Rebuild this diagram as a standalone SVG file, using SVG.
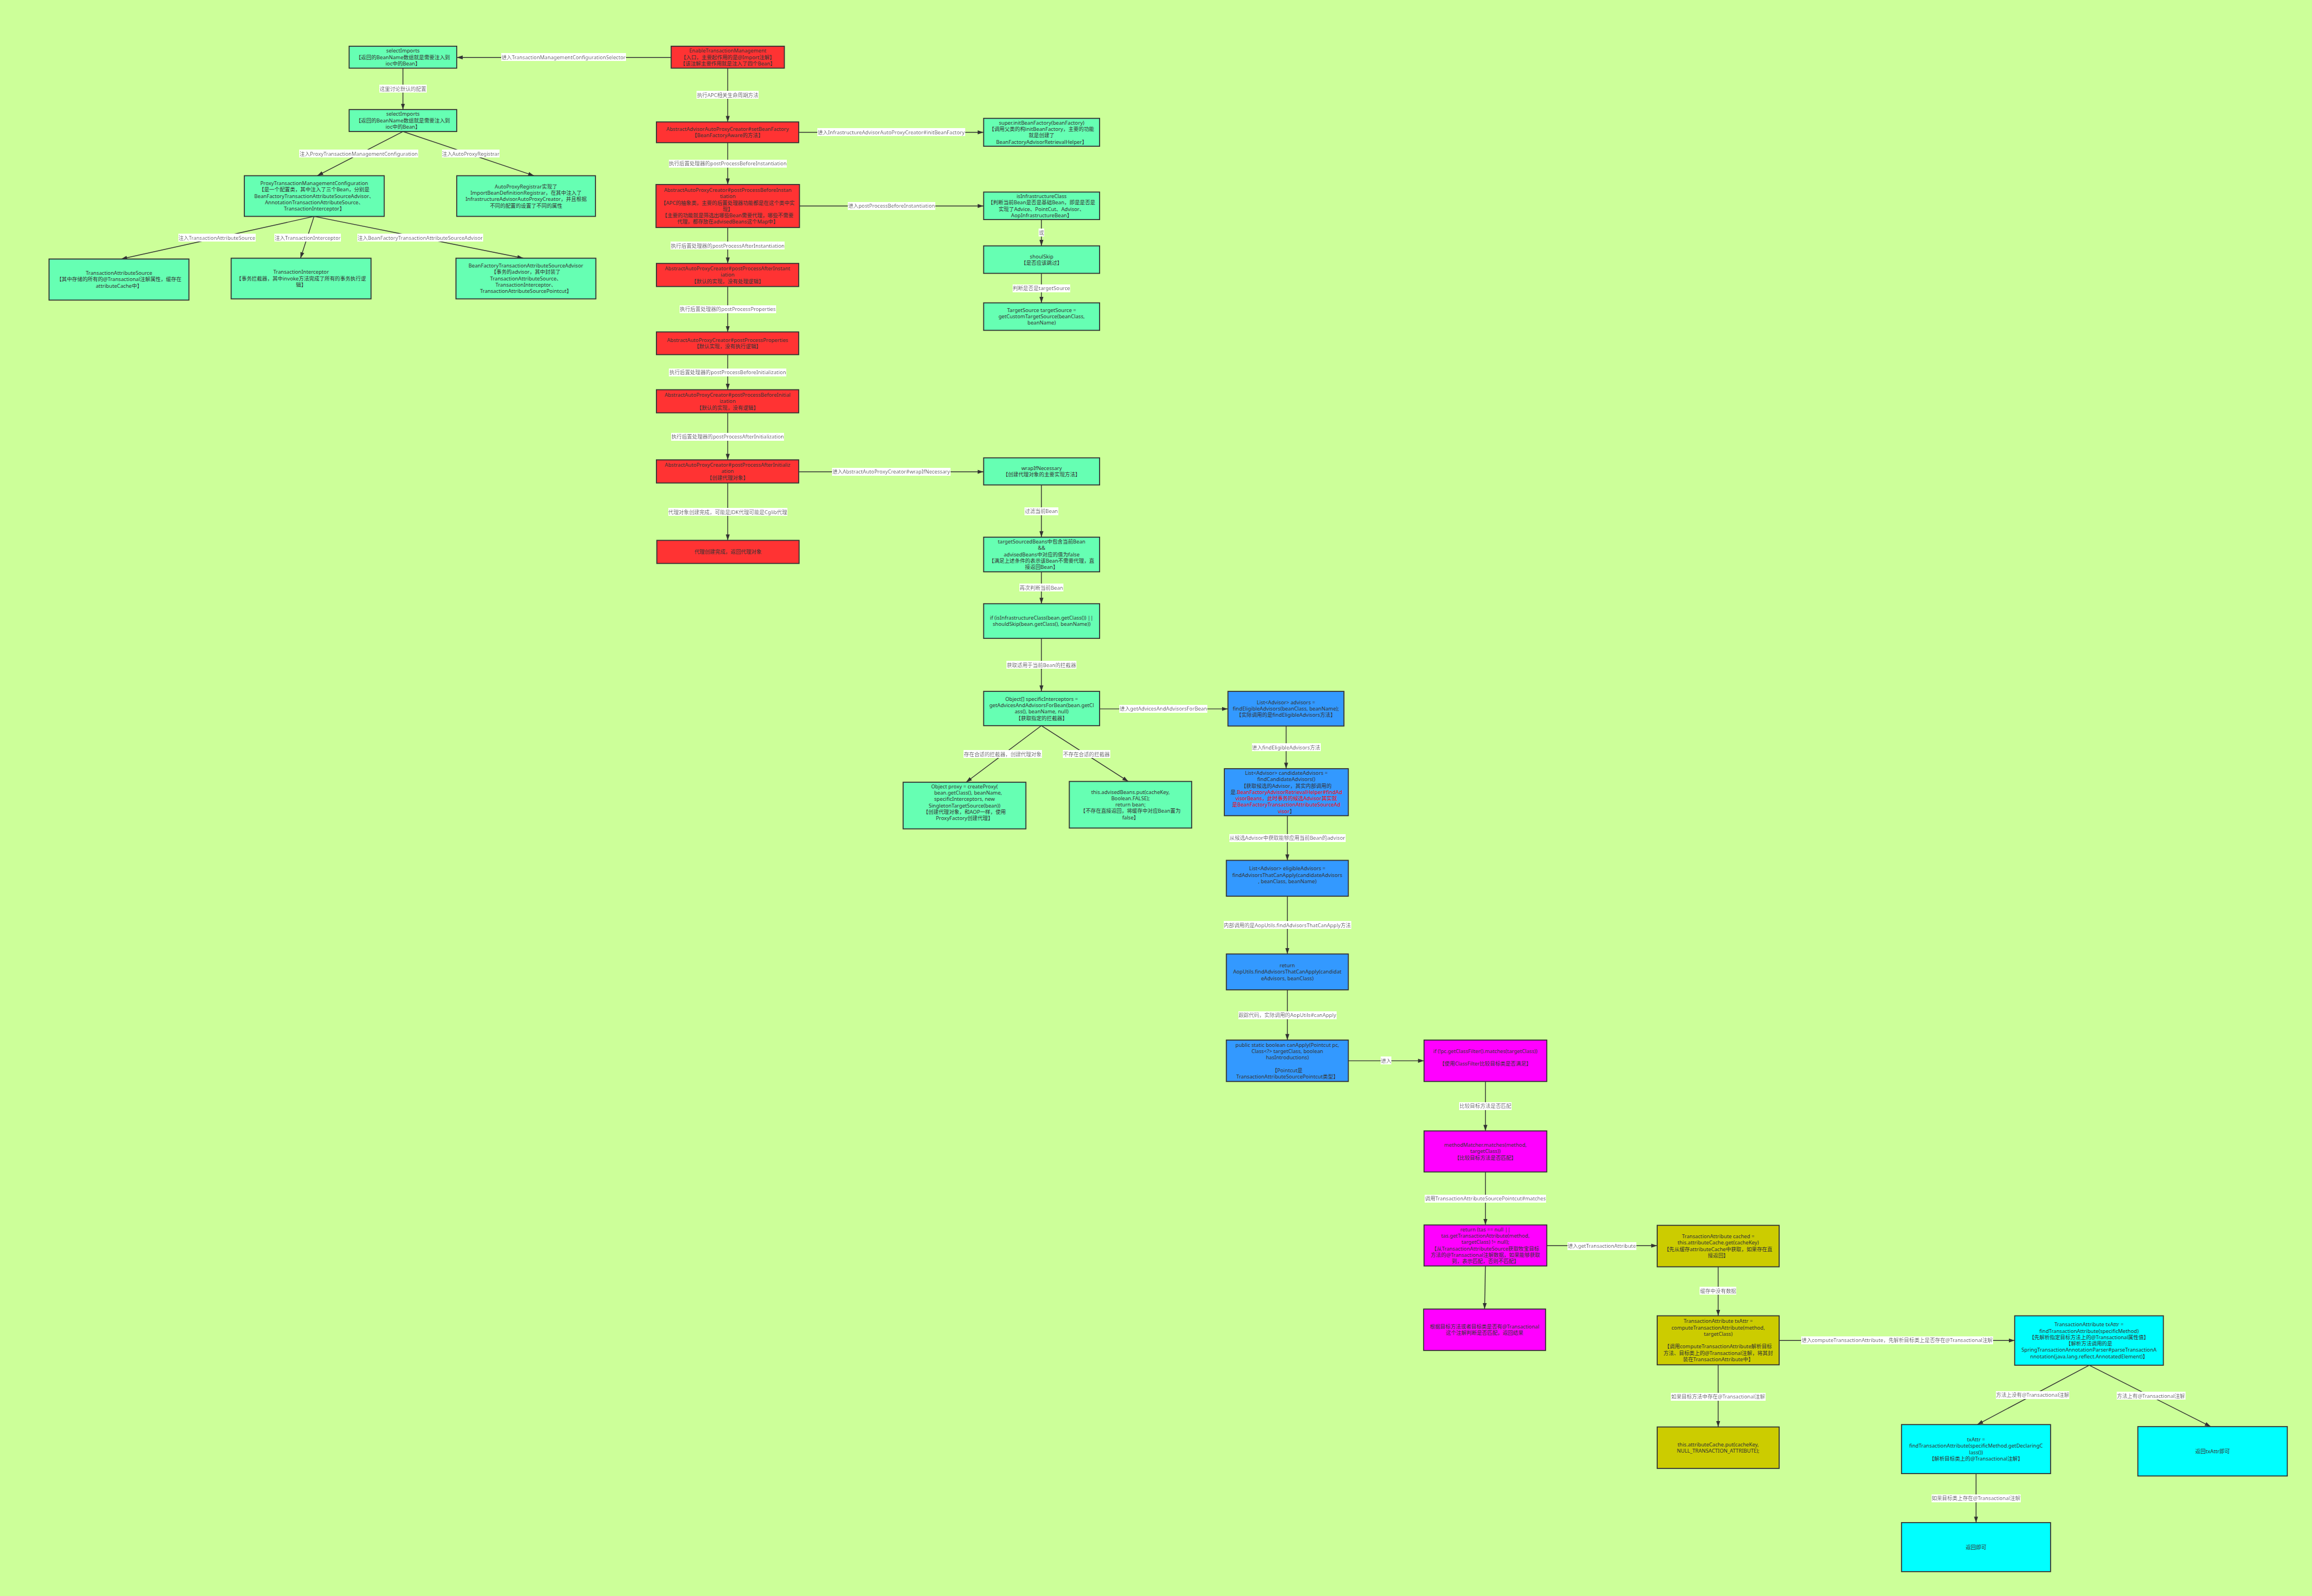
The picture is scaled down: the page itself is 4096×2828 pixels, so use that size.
<svg xmlns="http://www.w3.org/2000/svg" width="4096" height="2828" viewBox="0 0 4096 2828">
<defs>
<style>
text{font-family:"Noto Sans","Noto Sans CJK SC",sans-serif;font-size:13px;fill:#333;text-anchor:middle}
.nd rect{stroke:#333;stroke-width:2.5}
.g rect{fill:#66FFB3}.r rect{fill:#FF3333}.b rect{fill:#3399FF}.m rect{fill:#FF00FF}.o rect{fill:#CCCC00}.c rect{fill:#00FFFF}
.red{fill:#FF0000}
#connectors line{stroke:#333;stroke-width:2;fill:none;marker-end:url(#ah)}
.lbl{filter:url(#lb)}
</style>
<marker id="ah" markerUnits="userSpaceOnUse" markerWidth="16" markerHeight="12" refX="15" refY="6" orient="auto"><path d="M0,1 L15,6 L0,11 z" fill="#333"/></marker>
<filter id="lb" x="0" y="0" width="1" height="1"><feFlood flood-color="#ffffff"/><feComposite in="SourceGraphic" operator="over"/></filter>
</defs>
<rect x="0" y="0" width="4096" height="2828" fill="#CCFF99"/>
<g transform="scale(0.70609)">

<g id="connectors">
<line x1="1684" y1="144" x2="1146" y2="144"/>
<line x1="1011" y1="171" x2="1011" y2="275"/>
<line x1="1011" y1="330" x2="796" y2="441"/>
<line x1="1011" y1="330" x2="1340" y2="441"/>
<line x1="788" y1="543" x2="304" y2="650"/>
<line x1="788" y1="543" x2="754" y2="648"/>
<line x1="788" y1="543" x2="1313" y2="648"/>
<line x1="1826" y1="171" x2="1826" y2="306"/>
<line x1="1826" y1="358" x2="1826" y2="463"/>
<line x1="1826" y1="571" x2="1826" y2="661"/>
<line x1="1826" y1="719" x2="1826" y2="833"/>
<line x1="1826" y1="890" x2="1826" y2="978"/>
<line x1="1826" y1="1036" x2="1826" y2="1154"/>
<line x1="1826" y1="1212" x2="1826" y2="1356"/>
<line x1="2004" y1="332" x2="2468" y2="332"/>
<line x1="2006" y1="517" x2="2468" y2="517"/>
<line x1="2004" y1="1184" x2="2468" y2="1184"/>
<line x1="2613" y1="551" x2="2613" y2="617"/>
<line x1="2613" y1="686" x2="2613" y2="760"/>
<line x1="2613" y1="1217" x2="2613" y2="1348"/>
<line x1="2613" y1="1435" x2="2613" y2="1515"/>
<line x1="2613" y1="1602" x2="2613" y2="1735"/>
<line x1="2613" y1="1821" x2="2424" y2="1963"/>
<line x1="2613" y1="1821" x2="2831" y2="1961"/>
<line x1="2759" y1="1779" x2="3081" y2="1779"/>
<line x1="3227" y1="1822" x2="3227" y2="1929"/>
<line x1="3230" y1="2047" x2="3230" y2="2159"/>
<line x1="3230" y1="2249" x2="3230" y2="2394"/>
<line x1="3230" y1="2484" x2="3230" y2="2610"/>
<line x1="3383" y1="2662" x2="3573" y2="2662"/>
<line x1="3727" y1="2714" x2="3727" y2="2838"/>
<line x1="3727" y1="2941" x2="3727" y2="3074"/>
<line x1="3727" y1="3177" x2="3725" y2="3285"/>
<line x1="3881" y1="3126" x2="4158" y2="3126"/>
<line x1="4311" y1="3179" x2="4311" y2="3302"/>
<line x1="4311" y1="3425" x2="4311" y2="3581"/>
<line x1="4464" y1="3364" x2="5055" y2="3364"/>
<line x1="5242" y1="3426" x2="4961" y2="3575"/>
<line x1="5242" y1="3426" x2="5547" y2="3580"/>
<line x1="4958" y1="3698" x2="4958" y2="3821"/>

<text class="lbl" x="1414" y="148.5">进入TransactionManagementConfigurationSelector</text>
<text class="lbl" x="1011" y="227.5">这里讨论默认的配置</text>
<text class="lbl" x="900" y="390.5">注入ProxyTransactionManagementConfiguration</text>
<text class="lbl" x="1181" y="390.5">注入AutoProxyRegistrar</text>
<text class="lbl" x="544" y="601.5">注入TransactionAttributeSource</text>
<text class="lbl" x="772" y="601.5">注入TransactionInterceptor</text>
<text class="lbl" x="1054" y="601.5">注入BeanFactoryTransactionAttributeSourceAdvisor</text>
<text class="lbl" x="1826" y="243.5">执行APC相关生命周期方法</text>
<text class="lbl" x="1826" y="415.5">执行后置处理器的postProcessBeforeInstantiation</text>
<text class="lbl" x="1826" y="621.5">执行后置处理器的postProcessAfterInstantiation</text>
<text class="lbl" x="1826" y="780.5">执行后置处理器的postProcessProperties</text>
<text class="lbl" x="1826" y="939.5">执行后置处理器的postProcessBeforeInitialization</text>
<text class="lbl" x="1826" y="1100.5">执行后置处理器的postProcessAfterInitialization</text>
<text class="lbl" x="1826" y="1289.5">代理对象创建完成，可能是JDK代理可能是Cglib代理</text>
<text class="lbl" x="2236" y="336.5">进入InfrastructureAdvisorAutoProxyCreator#initBeanFactory</text>
<text class="lbl" x="2237" y="521.5">进入postProcessBeforeInstantiation</text>
<text class="lbl" x="2613" y="588.5">或</text>
<text class="lbl" x="2613" y="728.5">判断是否是targetSource</text>
<text class="lbl" x="2236" y="1188.5">进入AbstractAutoProxyCreator#wrapIfNecessary</text>
<text class="lbl" x="2613" y="1287.5">过滤当前Bean</text>
<text class="lbl" x="2613" y="1479.5">再次判断当前Bean</text>
<text class="lbl" x="2613" y="1673.5">获取适用于当前Bean的拦截器</text>
<text class="lbl" x="2516" y="1897.5">存在合适的拦截器，创建代理对象</text>
<text class="lbl" x="2726" y="1897.5">不存在合适的拦截器</text>
<text class="lbl" x="2919" y="1783.5">进入getAdvicesAndAdvisorsForBean</text>
<text class="lbl" x="3227" y="1880.5">进入findEligibleAdvisors方法</text>
<text class="lbl" x="3230" y="2107.5">从候选Advisor中获取能够应用当前Bean的advisor</text>
<text class="lbl" x="3230" y="2326.5">内部调用的是AopUtils.findAdvisorsThatCanApply方法</text>
<text class="lbl" x="3230" y="2552.5">跟踪代码，实际调用的AopUtils#canApply</text>
<text class="lbl" x="3478" y="2666.5">进入</text>
<text class="lbl" x="3727" y="2780.5">比较目标方法是否匹配</text>
<text class="lbl" x="3727" y="3012.5">调用TransactionAttributeSourcePointcut#matches</text>
<text class="lbl" x="4019" y="3131.5">进入getTransactionAttribute</text>
<text class="lbl" x="4311" y="3244.5">缓存中没有数据</text>
<text class="lbl" x="4311" y="3509.5">如果目标方法中存在@Transactional注解</text>
<text class="lbl" x="4760" y="3368.5">进入computeTransactionAttribute，先解析目标类上是否存在@Transactional注解</text>
<text class="lbl" x="5100" y="3505.5">方法上没有@Transactional注解</text>
<text class="lbl" x="5397" y="3507.5">方法上有@Transactional注解</text>
<text class="lbl" x="4958" y="3764.5">如果目标类上存在@Transactional注解</text>
</g>

<g id="selectImports1" class="nd g"><rect x="876" y="116" width="270" height="55"/>
<text x="1011" y="132"><tspan x="1011">selectImports</tspan><tspan x="1011" dy="16">【返回的BeanName数组就是需要注入到</tspan><tspan x="1011" dy="16">ioc中的Bean】</tspan></text></g>
<g id="selectImports2" class="nd g"><rect x="876" y="275" width="270" height="55"/>
<text x="1011" y="291"><tspan x="1011">selectImports</tspan><tspan x="1011" dy="16">【返回的BeanName数组就是需要注入到</tspan><tspan x="1011" dy="16">ioc中的Bean】</tspan></text></g>
<g id="proxyTMC" class="nd g"><rect x="613" y="441" width="351" height="102"/>
<text x="788.5" y="464.5"><tspan x="788.5">ProxyTransactionManagementConfiguration</tspan><tspan x="788.5" dy="16">【是一个配置类，其中注入了三个Bean，分别是</tspan><tspan x="788.5" dy="16">BeanFactoryTransactionAttributeSourceAdvisor、</tspan><tspan x="788.5" dy="16">AnnotationTransactionAttributeSource、</tspan><tspan x="788.5" dy="16">TransactionInterceptor】</tspan></text></g>
<g id="autoProxyRegistrar" class="nd g"><rect x="1146" y="441" width="348" height="102"/>
<text x="1320" y="472.5"><tspan x="1320">AutoProxyRegistrar实现了</tspan><tspan x="1320" dy="16">ImportBeanDefinitionRegistrar，在其中注入了</tspan><tspan x="1320" dy="16">InfrastructureAdvisorAutoProxyCreator，并且根据</tspan><tspan x="1320" dy="16">不同的配置的设置了不同的属性</tspan></text></g>
<g id="tas" class="nd g"><rect x="123" y="650" width="351" height="103"/>
<text x="298.5" y="690"><tspan x="298.5">TransactionAttributeSource</tspan><tspan x="298.5" dy="16">【其中存储的所有的@Transactional注解属性，缓存在</tspan><tspan x="298.5" dy="16">attributeCache中】</tspan></text></g>
<g id="ti" class="nd g"><rect x="580" y="648" width="351" height="102"/>
<text x="755.5" y="687.5"><tspan x="755.5">TransactionInterceptor</tspan><tspan x="755.5" dy="16">【事务拦截器，其中invoke方法完成了所有的事务执行逻</tspan><tspan x="755.5" dy="16">辑】</tspan></text></g>
<g id="bftasa" class="nd g"><rect x="1144" y="648" width="351" height="102"/>
<text x="1319.5" y="671.5"><tspan x="1319.5">BeanFactoryTransactionAttributeSourceAdvisor</tspan><tspan x="1319.5" dy="16">【事务的advisor，其中封装了</tspan><tspan x="1319.5" dy="16">TransactionAttributeSource、</tspan><tspan x="1319.5" dy="16">TransactionInterceptor、</tspan><tspan x="1319.5" dy="16">TransactionAttributeSourcePointcut】</tspan></text></g>

<g id="enableTM" class="nd r"><rect x="1684" y="116" width="284" height="55"/>
<text x="1826" y="132"><tspan x="1826">EnableTransactionManagement</tspan><tspan x="1826" dy="16">【入口，主要起作用的是@Import注解】</tspan><tspan x="1826" dy="16">【该注解主要作用就是注入了四个Bean】</tspan></text></g>
<g id="setBeanFactory" class="nd r"><rect x="1647" y="306" width="357" height="52"/>
<text x="1825.5" y="328.5"><tspan x="1825.5">AbstractAdvisorAutoProxyCreator#setBeanFactory</tspan><tspan x="1825.5" dy="16">【BeanFactoryAware的方法】</tspan></text></g>
<g id="beforeInst" class="nd r"><rect x="1646" y="463" width="360" height="108"/>
<text x="1826" y="481.5"><tspan x="1826">AbstractAutoProxyCreator#postProcessBeforeInstan</tspan><tspan x="1826" dy="16">tiation</tspan><tspan x="1826" dy="16">【APC的抽象类，主要的后置处理器功能都是在这个类中实</tspan><tspan x="1826" dy="16">现】</tspan><tspan x="1826" dy="16">【主要的功能就是筛选出哪些Bean需要代理，哪些不需要</tspan><tspan x="1826" dy="16">代理，都存放在advisedBeans这个Map中】</tspan></text></g>
<g id="afterInst" class="nd r"><rect x="1647" y="661" width="357" height="58"/>
<text x="1825.5" y="678.5"><tspan x="1825.5">AbstractAutoProxyCreator#postProcessAfterInstant</tspan><tspan x="1825.5" dy="16">iation</tspan><tspan x="1825.5" dy="16">【默认的实现，没有处理逻辑】</tspan></text></g>
<g id="properties" class="nd r"><rect x="1647" y="833" width="357" height="57"/>
<text x="1825.5" y="858"><tspan x="1825.5">AbstractAutoProxyCreator#postProcessProperties</tspan><tspan x="1825.5" dy="16">【默认实现，没有执行逻辑】</tspan></text></g>
<g id="beforeInit" class="nd r"><rect x="1647" y="978" width="357" height="58"/>
<text x="1825.5" y="995.5"><tspan x="1825.5">AbstractAutoProxyCreator#postProcessBeforeInitial</tspan><tspan x="1825.5" dy="16">ization</tspan><tspan x="1825.5" dy="16">【默认的实现，没有逻辑】</tspan></text></g>
<g id="afterInit" class="nd r"><rect x="1647" y="1154" width="357" height="58"/>
<text x="1825.5" y="1171.5"><tspan x="1825.5">AbstractAutoProxyCreator#postProcessAfterInitializ</tspan><tspan x="1825.5" dy="16">ation</tspan><tspan x="1825.5" dy="16">【创建代理对象】</tspan></text></g>
<g id="proxyDone" class="nd r"><rect x="1648" y="1356" width="357" height="58"/>
<text x="1826.5" y="1389.5">代理创建完成，返回代理对象</text></g>

<g id="superInit" class="nd g"><rect x="2468" y="297" width="291" height="70"/>
<text x="2613.5" y="312.5"><tspan x="2613.5">super.initBeanFactory(beanFactory)</tspan><tspan x="2613.5" dy="16">【调用父类的构initBeanFactory，主要的功能</tspan><tspan x="2613.5" dy="16">就是创建了</tspan><tspan x="2613.5" dy="16">BeanFactoryAdvisorRetrievalHelper】</tspan></text></g>
<g id="isInfra" class="nd g"><rect x="2468" y="482" width="291" height="69"/>
<text x="2613.5" y="497"><tspan x="2613.5">isInfrastructureClass</tspan><tspan x="2613.5" dy="16">【判断当前Bean是否是基础Bean，即是是否是</tspan><tspan x="2613.5" dy="16">实现了Advice、PointCut、Advisor、</tspan><tspan x="2613.5" dy="16">AopInfrastructureBean】</tspan></text></g>
<g id="shoulSkip" class="nd g"><rect x="2468" y="617" width="291" height="69"/>
<text x="2613.5" y="648"><tspan x="2613.5">shoulSkip</tspan><tspan x="2613.5" dy="16">【是否应该跳过】</tspan></text></g>
<g id="targetSource" class="nd g"><rect x="2468" y="760" width="291" height="69"/>
<text x="2613.5" y="783"><tspan x="2613.5">TargetSource targetSource =</tspan><tspan x="2613.5" dy="16">getCustomTargetSource(beanClass,</tspan><tspan x="2613.5" dy="16">beanName)</tspan></text></g>
<g id="wrapIfNecessary" class="nd g"><rect x="2468" y="1149" width="291" height="68"/>
<text x="2613.5" y="1179.5"><tspan x="2613.5">wrapIfNecessary</tspan><tspan x="2613.5" dy="16">【创建代理对象的主要实现方法】</tspan></text></g>
<g id="targetSourcedBeans" class="nd g"><rect x="2468" y="1348" width="291" height="87"/>
<text x="2613.5" y="1364"><tspan x="2613.5">targetSourcedBeans中包含当前Bean</tspan><tspan x="2613.5" dy="16">&amp;&amp;</tspan><tspan x="2613.5" dy="16">advisedBeans中对应的值为false</tspan><tspan x="2613.5" dy="16">【满足上述条件的表示该Bean不需要代理，直</tspan><tspan x="2613.5" dy="16">接返回Bean】</tspan></text></g>
<g id="ifInfra" class="nd g"><rect x="2468" y="1515" width="291" height="87"/>
<text x="2613.5" y="1555"><tspan x="2613.5">if (isInfrastructureClass(bean.getClass()) ||</tspan><tspan x="2613.5" dy="16">shouldSkip(bean.getClass(), beanName))</tspan></text></g>
<g id="specificInterceptors" class="nd g"><rect x="2468" y="1735" width="291" height="86"/>
<text x="2613.5" y="1758.5"><tspan x="2613.5">Object[] specificInterceptors =</tspan><tspan x="2613.5" dy="16">getAdvicesAndAdvisorsForBean(bean.getCl</tspan><tspan x="2613.5" dy="16">ass(), beanName, null)</tspan><tspan x="2613.5" dy="16">【获取指定的拦截器】</tspan></text></g>
<g id="createProxy" class="nd g"><rect x="2266" y="1963" width="308" height="117"/>
<text x="2420" y="1978"><tspan x="2420">Object proxy = createProxy(</tspan><tspan x="2429" dy="16">bean.getClass(), beanName,</tspan><tspan x="2420" dy="16">specificInterceptors, new</tspan><tspan x="2420" dy="16">SingletonTargetSource(bean))</tspan><tspan x="2420" dy="16">【创建代理对象，和AOP一样，使用</tspan><tspan x="2420" dy="16">ProxyFactory创建代理】</tspan></text></g>
<g id="advisedBeansPut" class="nd g"><rect x="2683" y="1961" width="307" height="117"/>
<text x="2836.5" y="1992"><tspan x="2836.5">this.advisedBeans.put(cacheKey,</tspan><tspan x="2836.5" dy="16">Boolean.FALSE);</tspan><tspan x="2836.5" dy="16">return bean;</tspan><tspan x="2836.5" dy="16">【不存在直接返回，将缓存中对应Bean置为</tspan><tspan x="2836.5" dy="16">false】</tspan></text></g>

<g id="findEligible" class="nd b"><rect x="3081" y="1735" width="291" height="87"/>
<text x="3226.5" y="1767"><tspan x="3226.5">List&lt;Advisor&gt; advisors =</tspan><tspan x="3226.5" dy="16">findEligibleAdvisors(beanClass, beanName);</tspan><tspan x="3226.5" dy="16">【实际调用的是findEligibleAdvisors方法】</tspan></text></g>
<g id="candidateAdvisors" class="nd b"><rect x="3072" y="1929" width="311" height="118"/>
<text x="3227.5" y="1944.5"><tspan x="3227.5">List&lt;Advisor&gt; candidateAdvisors =</tspan><tspan x="3227.5" dy="16">findCandidateAdvisors()</tspan><tspan x="3227.5" dy="16">【获取候选的Advisor，其实内部调用的</tspan><tspan x="3227.5" dy="16">是.<tspan class="red">BeanFactoryAdvisorRetrievalHelper#findAd</tspan></tspan><tspan x="3227.5" dy="16" class="red">visorBeans，此时事务的候选Advisor其实就</tspan><tspan x="3227.5" dy="16" class="red">是BeanFactoryTransactionAttributeSourceAd</tspan><tspan x="3227.5" dy="16"><tspan class="red">visor</tspan>】</tspan></text></g>
<g id="eligibleAdvisors" class="nd b"><rect x="3077" y="2159" width="306" height="90"/>
<text x="3230" y="2184.5"><tspan x="3230">List&lt;Advisor&gt; eligibleAdvisors =</tspan><tspan x="3230" dy="16">findAdvisorsThatCanApply(candidateAdvisors</tspan><tspan x="3230" dy="16">, beanClass, beanName)</tspan></text></g>
<g id="aopUtilsFind" class="nd b"><rect x="3077" y="2394" width="306" height="90"/>
<text x="3230" y="2427.5"><tspan x="3230">return</tspan><tspan x="3230" dy="16">AopUtils.findAdvisorsThatCanApply(candidat</tspan><tspan x="3230" dy="16">eAdvisors, beanClass)</tspan></text></g>
<g id="canApply" class="nd b"><rect x="3077" y="2610" width="306" height="104"/>
<text x="3230" y="2626.5"><tspan x="3230">public static boolean canApply(Pointcut pc,</tspan><tspan x="3230" dy="16">Class&lt;?&gt; targetClass, boolean</tspan><tspan x="3230" dy="16">hasIntroductions)</tspan><tspan x="3230" dy="32">【Pointcut是</tspan><tspan x="3230" dy="16">TransactionAttributeSourcePointcut类型】</tspan></text></g>

<g id="classFilter" class="nd m"><rect x="3573" y="2610" width="308" height="104"/>
<text x="3727" y="2642.5"><tspan x="3727">if (!pc.getClassFilter().matches(targetClass))</tspan><tspan x="3727" dy="32">【使用ClassFilter比较目标类是否满足】</tspan></text></g>
<g id="methodMatcher" class="nd m"><rect x="3573" y="2838" width="308" height="103"/>
<text x="3727" y="2878"><tspan x="3727">methodMatcher.matches(method,</tspan><tspan x="3727" dy="16">targetClass))</tspan><tspan x="3727" dy="16">【比较目标方法是否匹配】</tspan></text></g>
<g id="returnTas" class="nd m"><rect x="3573" y="3074" width="308" height="103"/>
<text x="3727" y="3090"><tspan x="3727">return (tas == null ||</tspan><tspan x="3727" dy="16">tas.getTransactionAttribute(method,</tspan><tspan x="3727" dy="16">targetClass) != null);</tspan><tspan x="3727" dy="16">【从TransactionAttributeSource获取牧宝目标</tspan><tspan x="3727" dy="16">方法的@Transactional注解数据，如果能够获取</tspan><tspan x="3727" dy="16">到，表示匹配，否则不匹配】</tspan></text></g>
<g id="matchResult" class="nd m"><rect x="3572" y="3285" width="306" height="104"/>
<text x="3725" y="3333.5"><tspan x="3725">根据目标方法或者目标类是否有@Transactional</tspan><tspan x="3725" dy="16">这个注解判断是否匹配，返回结果</tspan></text></g>

<g id="cachedAttr" class="nd o"><rect x="4158" y="3075" width="306" height="104"/>
<text x="4311" y="3107.5"><tspan x="4311">TransactionAttribute cached =</tspan><tspan x="4311" dy="16">this.attributeCache.get(cacheKey)</tspan><tspan x="4311" dy="16">【先从缓存attributeCache中获取，如果存在直</tspan><tspan x="4311" dy="16">接返回】</tspan></text></g>
<g id="computeAttr" class="nd o"><rect x="4158" y="3302" width="306" height="123"/>
<text x="4311" y="3320"><tspan x="4311">TransactionAttribute txAttr =</tspan><tspan x="4311" dy="16">computeTransactionAttribute(method,</tspan><tspan x="4311" dy="16">targetClass)</tspan><tspan x="4311" dy="32">【调用computeTransactionAttribute解析目标</tspan><tspan x="4311" dy="16">方法、目标类上的@Transactional注解，将其封</tspan><tspan x="4311" dy="16">装在TransactionAttribute中】</tspan></text></g>
<g id="cachePut" class="nd o"><rect x="4158" y="3581" width="306" height="104"/>
<text x="4311" y="3629.5"><tspan x="4311">this.attributeCache.put(cacheKey,</tspan><tspan x="4311" dy="16">NULL_TRANSACTION_ATTRIBUTE);</tspan></text></g>

<g id="findTxAttrMethod" class="nd c"><rect x="5055" y="3302" width="373" height="124"/>
<text x="5241.5" y="3328.5"><tspan x="5241.5">TransactionAttribute txAttr =</tspan><tspan x="5241.5" dy="16">findTransactionAttribute(specificMethod)</tspan><tspan x="5241.5" dy="16">【先解析指定目标方法上的@Transactional属性值】</tspan><tspan x="5241.5" dy="16">【解析方法调用的是</tspan><tspan x="5241.5" dy="16">SpringTransactionAnnotationParser#parseTransactionA</tspan><tspan x="5241.5" dy="16">nnotation(java.lang.reflect.AnnotatedElement)】</tspan></text></g>
<g id="findTxAttrClass" class="nd c"><rect x="4771" y="3575" width="374" height="123"/>
<text x="4958" y="3617"><tspan x="4958">txAttr =</tspan><tspan x="4958" dy="16">findTransactionAttribute(specificMethod.getDeclaringC</tspan><tspan x="4958" dy="16">lass())</tspan><tspan x="4958" dy="16">【解析目标类上的@Transactional注解】</tspan></text></g>
<g id="returnTxAttr" class="nd c"><rect x="5364" y="3580" width="375" height="124"/>
<text x="5551.5" y="3646.5">返回txAttr即可</text></g>
<g id="returnDone" class="nd c"><rect x="4771" y="3821" width="374" height="123"/>
<text x="4958" y="3887">返回即可</text></g>

</g>
</svg>
